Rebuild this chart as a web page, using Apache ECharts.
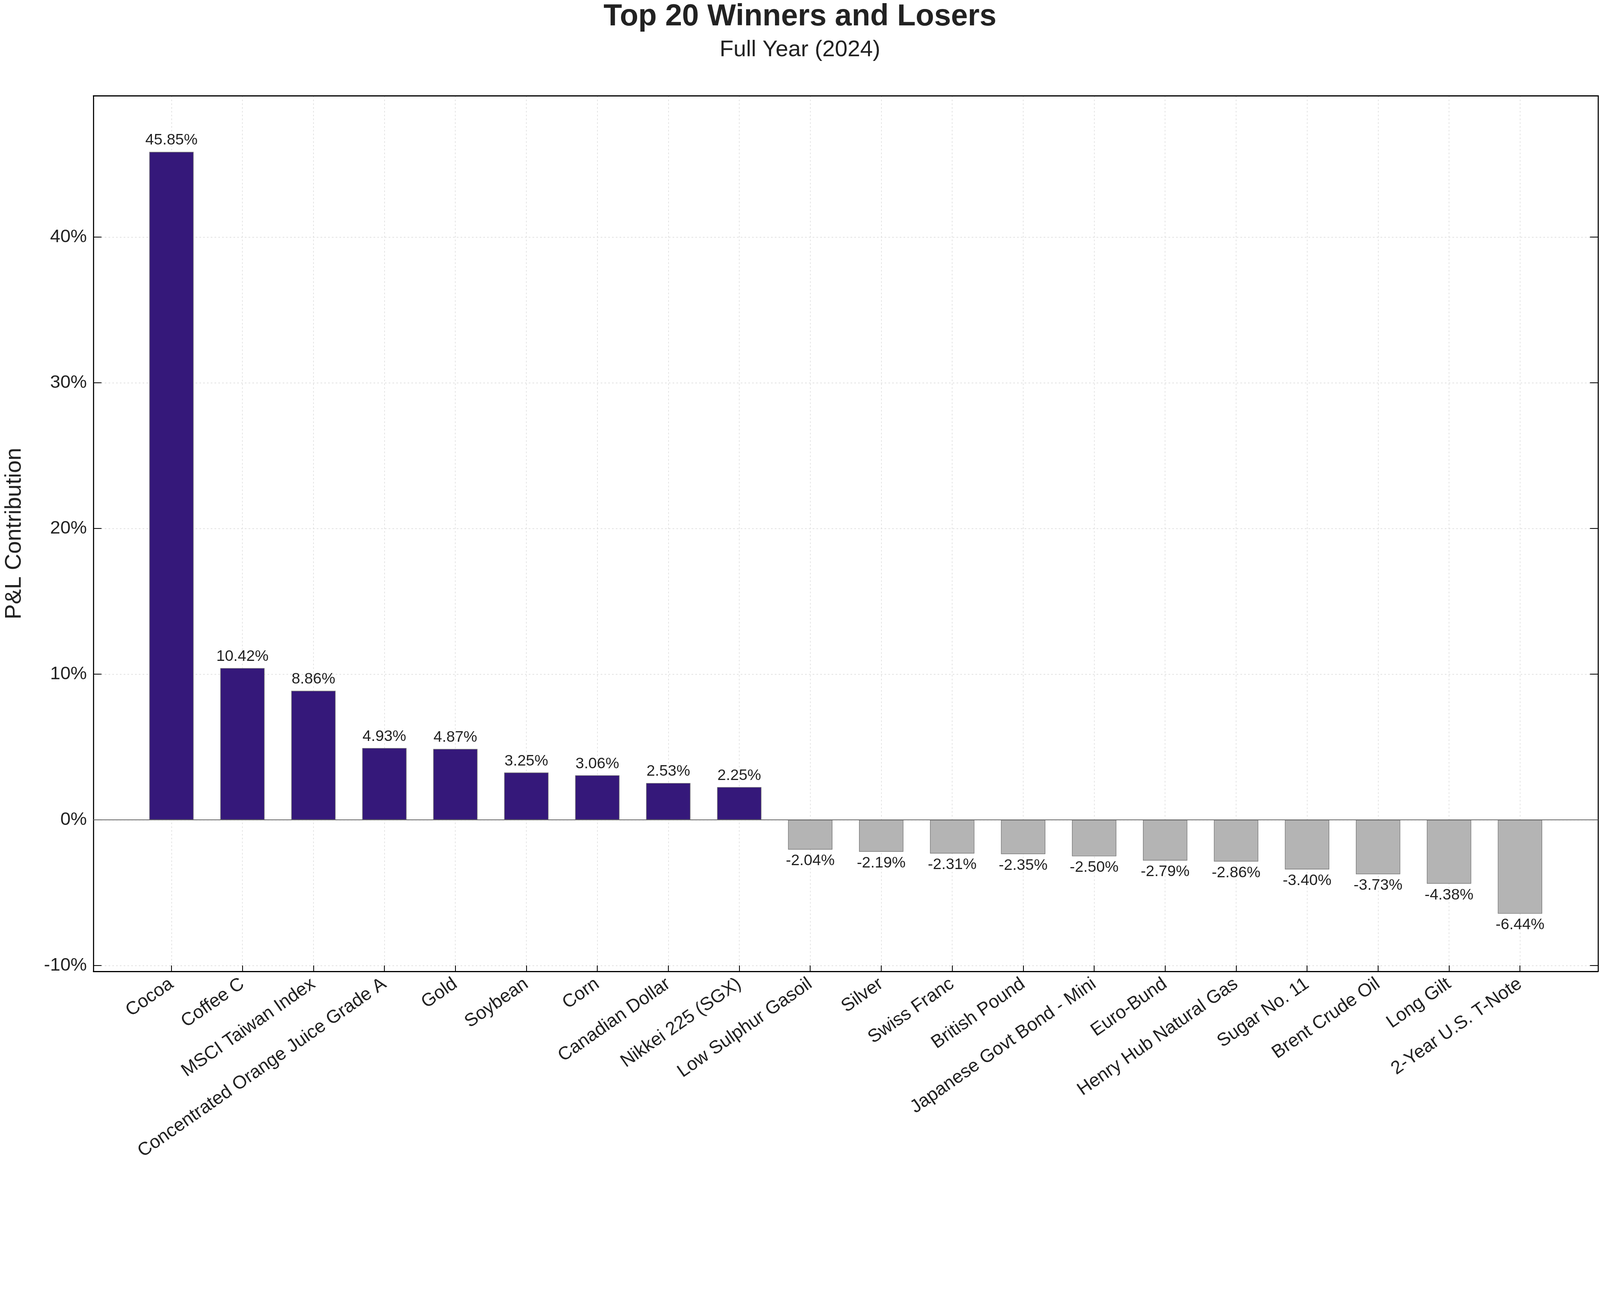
<!DOCTYPE html>
<html>
<head>
<meta charset="utf-8">
<script src="https://cdn.jsdelivr.net/npm/echarts@6/dist/echarts.min.js"></script>
<style>
  html, body { margin: 0; padding: 0; background: #fff; overflow: hidden; }
  #chart { width: 100vw; height: 100vh; }
</style>
</head>
<body>
<div id="chart"></div>
<script>
const markets = [
  "Cocoa", "Coffee C", "MSCI Taiwan Index", "Concentrated Orange Juice Grade A",
  "Gold", "Soybean", "Corn", "Canadian Dollar", "Nikkei 225 (SGX)",
  "Low Sulphur Gasoil", "Silver", "Swiss Franc", "British Pound",
  "Japanese Govt Bond - Mini", "Euro-Bund", "Henry Hub Natural Gas",
  "Sugar No. 11", "Brent Crude Oil", "Long Gilt", "2-Year U.S. T-Note"
];
const contribution = [
  45.85, 10.42, 8.86, 4.93, 4.87, 3.25, 3.06, 2.53, 2.25,
  -2.04, -2.19, -2.31, -2.35, -2.50, -2.79, -2.86, -3.40, -3.73, -4.38, -6.44
];
const yTicks = [-10, 0, 10, 20, 30, 40];

const FONT = "Liberation Sans";
const positions = markets.map((_, i) => i);
const el = document.getElementById("chart");
const chart = echarts.init(el, null, { renderer: "canvas" });
// everything was measured on the 5917 px wide reference; scale to the real window
const k = el.clientWidth / 5917;
const s = (v) => v * k;

const yAxisBase = {
  type: "value",
  min: -10.4,
  max: 49.7,
  axisLine: { show: true, onZero: false, lineStyle: { color: "#000", width: s(4) } },
  axisTick: { show: true, inside: true, length: s(30), customValues: yTicks, lineStyle: { color: "#000", width: s(3) } }
};

chart.setOption({
  animation: false,
  backgroundColor: "#fff",
  textStyle: { fontFamily: FONT },
  title: [
    {
      text: "Top 20 Winners and Losers",
      left: "center", top: 0,
      textStyle: { fontFamily: FONT, fontSize: s(112), fontWeight: "bold", color: "#222" }
    },
    {
      text: "Full Year (2024)",
      left: "center", top: s(136),
      textStyle: { fontFamily: FONT, fontSize: s(84), fontWeight: "normal", color: "#222" }
    }
  ],
  grid: { left: "5.6%", right: "0.12%", top: "7.35%", bottom: "25.45%", show: false },
  xAxis: [
    {
      type: "value",
      min: -1.1,
      max: 20.1,
      position: "bottom",
      axisLine: { show: true, onZero: false, lineStyle: { color: "#000", width: s(4) } },
      axisTick: { show: true, inside: true, length: s(22), customValues: positions, lineStyle: { color: "#000", width: s(3) } },
      axisLabel: {
        customValues: positions,
        rotate: 35,
        fontSize: s(68),
        color: "#222",
        margin: s(40),
        formatter: (v) => markets[Math.round(v)] || ""
      },
      splitLine: { show: true, lineStyle: { color: "#d6d6d6", type: [s(6), s(8)], width: s(2) } }
    },
    {
      type: "value",
      min: -1.1,
      max: 20.1,
      position: "top",
      axisLine: { show: true, onZero: false, lineStyle: { color: "#000", width: s(4) } },
      axisTick: { show: false },
      axisLabel: { show: false },
      splitLine: { show: false }
    }
  ],
  yAxis: [
    Object.assign({}, yAxisBase, {
      position: "left",
      name: "P&L Contribution",
      nameLocation: "middle",
      nameGap: s(250),
      nameTextStyle: { fontFamily: FONT, fontSize: s(84), color: "#222" },
      axisLabel: {
        customValues: yTicks,
        fontSize: s(68),
        color: "#222",
        margin: s(24),
        formatter: (v) => v + "%"
      },
      splitLine: { show: true, lineStyle: { color: "#d6d6d6", type: [s(6), s(8)], width: s(2) } }
    }),
    Object.assign({}, yAxisBase, {
      position: "right",
      axisLabel: { show: false },
      splitLine: { show: false }
    })
  ],
  series: [
    {
      type: "bar",
      barWidth: s(164),
      data: contribution.map((v, i) => ({
        value: [i, v],
        label: { position: v >= 0 ? "top" : "bottom" }
      })),
      itemStyle: {
        color: (p) => (p.value[1] >= 0 ? "#35187a" : "#b4b4b4"),
        borderColor: "#777",
        borderWidth: s(2)
      },
      label: {
        show: true,
        fontSize: s(57),
        color: "#222",
        distance: s(14),
        formatter: (p) => p.value[1].toFixed(2) + "%"
      },
      markLine: {
        silent: true,
        symbol: "none",
        label: { show: false },
        lineStyle: { color: "#666", type: "solid", width: s(3) },
        data: [{ yAxis: 0 }]
      }
    }
  ]
});
</script>
</body>
</html>
